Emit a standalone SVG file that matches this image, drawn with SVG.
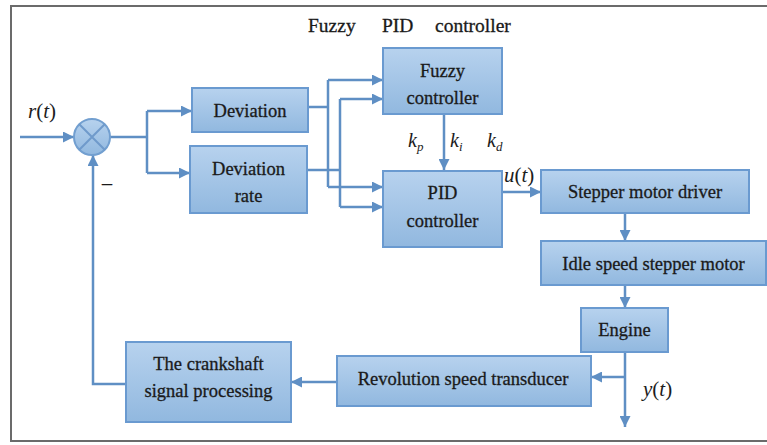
<svg xmlns="http://www.w3.org/2000/svg" width="767" height="445" viewBox="0 0 767 445">
<style>
.box{fill:url(#bg);stroke:#6a9ad0;stroke-width:2}
.t{font-family:"Liberation Serif","Times New Roman",serif;font-size:18.5px;fill:#1a1a1a;stroke:#1a1a1a;stroke-width:0.3;text-anchor:middle}
.m{font-family:"Liberation Serif","Times New Roman",serif;font-style:italic;fill:#1c1c1c}
.c{fill:none;stroke:#5f8fc4;stroke-width:2.5}
.ca{fill:none;stroke:#5f8fc4;stroke-width:2.5;marker-end:url(#ah)}
</style>
<defs>
<linearGradient id="bg" x1="0" y1="0" x2="0" y2="1">
<stop offset="0" stop-color="#b7d2ee"/>
<stop offset="1" stop-color="#91b8df"/>
</linearGradient>
<marker id="ah" viewBox="0 0 10 10" refX="10" refY="5" markerWidth="11" markerHeight="11" markerUnits="userSpaceOnUse" orient="auto">
<path d="M0,0 L10,5 L0,10 z" fill="#5f8fc4"/>
</marker>
</defs>
<rect width="767" height="445" fill="#ffffff"/>
<rect id="frame" x="11" y="6" width="770" height="435" fill="none" stroke="#6b6b6b" stroke-width="2"/>
<g id="title">
<text class="t" x="308" y="32" style="text-anchor:start;font-size:19.5px">Fuzzy</text>
<text class="t" x="382" y="32" style="text-anchor:start;font-size:19.5px">PID</text>
<text class="t" x="435" y="32" style="text-anchor:start;font-size:19.5px">controller</text>
</g>
<g id="connectors">
<path class="ca" d="M20,137 H74"/>
<path class="c" d="M110,137 H147 M147,111 V173"/>
<path class="ca" d="M147,111 H192"/>
<path class="ca" d="M147,173 H190"/>
<path class="c" d="M308,107 H328 M328,80 V187"/>
<path class="ca" d="M328,80 H383"/>
<path class="ca" d="M328,187 H383"/>
<path class="c" d="M307,170 H340 M340,99 V207"/>
<path class="ca" d="M340,99 H383"/>
<path class="ca" d="M340,207 H383"/>
<path class="ca" d="M444,114 V170"/>
<path class="ca" d="M502,192 H541"/>
<path class="ca" d="M625,213 V241"/>
<path class="ca" d="M625,285 V308"/>
<path class="ca" d="M625,352 V427"/>
<path class="ca" d="M625,377 H591"/>
<path class="ca" d="M337,382 H291"/>
<path class="ca" d="M126,384 H93 V155"/>
</g>
<g id="sum">
<circle cx="92" cy="137" r="18" fill="url(#bg)" stroke="#729fd0" stroke-width="2"/>
<path d="M79.3,124.3 L104.7,149.7 M104.7,124.3 L79.3,149.7" stroke="#6f9acb" stroke-width="2"/>
</g>
<g id="deviation">
<rect class="box" x="192" y="88" width="116" height="44"/>
<text class="t" x="250" y="117">Deviation</text>
</g>
<g id="deviation-rate">
<rect class="box" x="190" y="146" width="117" height="67"/>
<text class="t" x="248.5" y="175">Deviation</text>
<text class="t" x="248.5" y="202">rate</text>
</g>
<g id="fuzzy-controller">
<rect class="box" x="383" y="48" width="119" height="66"/>
<text class="t" x="442.5" y="77">Fuzzy</text>
<text class="t" x="442.5" y="104">controller</text>
</g>
<g id="pid-controller">
<rect class="box" x="383" y="171" width="119" height="76"/>
<text class="t" x="442.5" y="199">PID</text>
<text class="t" x="442.5" y="227">controller</text>
</g>
<g id="stepper-driver">
<rect class="box" x="541" y="170" width="208" height="43"/>
<text class="t" x="645" y="198">Stepper motor driver</text>
</g>
<g id="idle-motor">
<rect class="box" x="541" y="241" width="225" height="44"/>
<text class="t" x="653.5" y="270">Idle speed stepper motor</text>
</g>
<g id="engine">
<rect class="box" x="581" y="308" width="87" height="44"/>
<text class="t" x="624.5" y="336">Engine</text>
</g>
<g id="revolution-transducer">
<rect class="box" x="337" y="356" width="254" height="50"/>
<text class="t" x="463" y="385">Revolution speed transducer</text>
</g>
<g id="crankshaft">
<rect class="box" x="126" y="342" width="165" height="80"/>
<text class="t" x="208.5" y="370">The crankshaft</text>
<text class="t" x="208.5" y="397">signal processing</text>
</g>
<g id="labels">
<text class="m" x="28" y="118" font-size="21">r<tspan font-style="normal">(</tspan>t<tspan font-style="normal">)</tspan></text>
<text class="t" x="107" y="190" style="font-size:20px">–</text>
<text class="m" x="408" y="147" font-size="20">k<tspan font-size="13" dy="4">p</tspan></text>
<text class="m" x="450" y="147" font-size="20">k<tspan font-size="13" dy="4">i</tspan></text>
<text class="m" x="487" y="147" font-size="20">k<tspan font-size="13" dy="4">d</tspan></text>
<text class="m" x="504" y="182" font-size="21">u<tspan font-style="normal">(</tspan>t<tspan font-style="normal">)</tspan></text>
<text class="m" x="643" y="396" font-size="21">y<tspan font-style="normal">(</tspan>t<tspan font-style="normal">)</tspan></text>
</g>
</svg>
